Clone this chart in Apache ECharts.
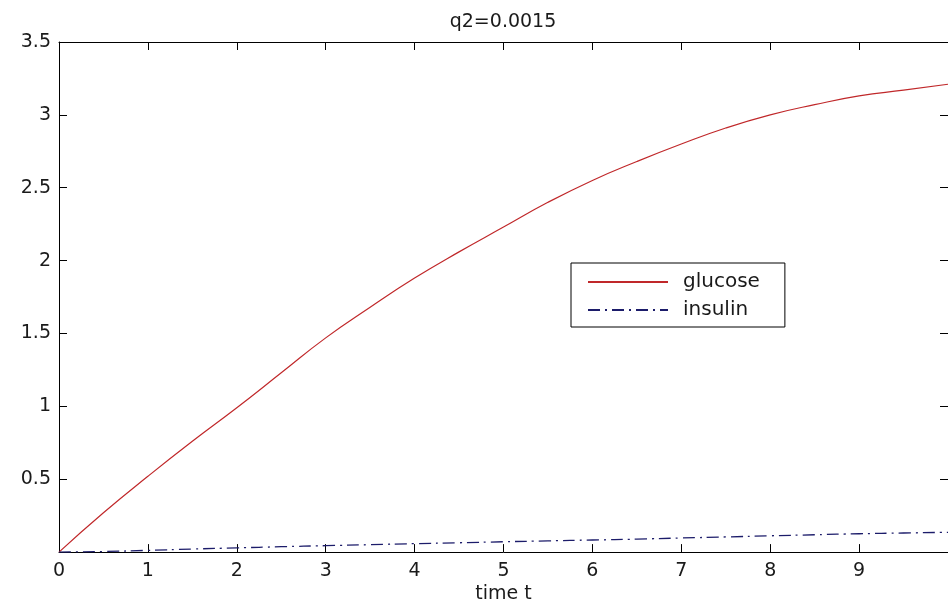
<!DOCTYPE html>
<html>
<head>
<meta charset="utf-8">
<script src="https://cdn.jsdelivr.net/npm/echarts@6/dist/echarts.min.js"></script>
<style>html,body{margin:0;padding:0;background:#fff}#c{width:948px;height:609px}</style>
</head>
<body>
<div id="c"></div>
<script>
const timeT = [0, 0.5, 1, 1.5, 2, 2.5, 3, 3.5, 4, 4.5, 5, 5.5, 6, 6.5, 7, 7.5, 8, 8.5, 9, 9.5, 10];
const glucose = [0, 0.27, 0.52, 0.76, 0.99, 1.23, 1.47, 1.68, 1.88, 2.06, 2.23, 2.40, 2.55, 2.68, 2.80, 2.91, 3.00, 3.07, 3.13, 3.17, 3.21];
const insulin = [0, 0.004, 0.012, 0.021, 0.029, 0.037, 0.044, 0.051, 0.058, 0.064, 0.071, 0.077, 0.083, 0.089, 0.097, 0.104, 0.112, 0.119, 0.126, 0.131, 0.136];
const seriesNames = ['glucose', 'insulin'];
const titleText = 'q2=0.0015';
const xName = 'time t';

const font = 'DejaVu Sans, Verdana, sans-serif';
const txtColor = '#1a1a1a';
const chart = echarts.init(document.getElementById('c'));
const pairs = (ys) => timeT.map((t, i) => [t, ys[i]]);
const tickCommon = { show: true, inside: true, length: 8, lineStyle: { color: '#000', width: 1 } };
chart.setOption({
  backgroundColor: '#fff',
  animation: false,
  title: {
    text: titleText, left: 498, top: 8, textAlign: 'center',
    textStyle: { fontFamily: font, fontSize: 19, fontWeight: 'normal', color: txtColor }
  },
  grid: { left: 59, top: 42, right: -8, bottom: 55, show: false },
  legend: {
    orient: 'vertical', left: 571, top: 263,
    padding: [9, 25, 7, 16], itemGap: 8, itemWidth: 80, itemHeight: 20,
    backgroundColor: '#fff', borderColor: '#000', borderWidth: 1, borderRadius: 0,
    itemStyle: { opacity: 0 },
    textStyle: { fontFamily: font, fontSize: 20, color: txtColor, padding: [0, 0, 0, 10] },
    data: seriesNames
  },
  xAxis: [{
    type: 'value', min: 0, max: 10, interval: 1, position: 'bottom',
    name: xName, nameLocation: 'middle', nameGap: 31,
    nameTextStyle: { fontFamily: font, fontSize: 19, color: txtColor },
    axisLine: { show: true, onZero: false, lineStyle: { color: '#000', width: 1 } },
    axisTick: tickCommon,
    axisLabel: { fontFamily: font, fontSize: 19, color: txtColor, margin: 9, showMaxLabel: false },
    splitLine: { show: false }
  }, {
    type: 'value', min: 0, max: 10, interval: 1, position: 'top',
    axisLine: { show: true, onZero: false, lineStyle: { color: '#000', width: 1 } },
    axisTick: tickCommon, axisLabel: { show: false }, splitLine: { show: false }
  }],
  yAxis: [{
    type: 'value', min: 0, max: 3.5, interval: 0.5, position: 'left',
    axisLine: { show: true, onZero: false, lineStyle: { color: '#000', width: 1 } },
    axisTick: tickCommon,
    axisLabel: { fontFamily: font, fontSize: 19, color: txtColor, margin: 8, showMinLabel: false },
    splitLine: { show: false }
  }, {
    type: 'value', min: 0, max: 3.5, interval: 0.5, position: 'right',
    axisLine: { show: true, onZero: false, lineStyle: { color: '#000', width: 1 } },
    axisTick: tickCommon, axisLabel: { show: false }, splitLine: { show: false }
  }],
  series: [{
    name: seriesNames[0], type: 'line', data: pairs(glucose), smooth: true,
    symbol: 'none', clip: true,
    lineStyle: { color: '#c0282a', width: 1.2 }, itemStyle: { color: '#c0282a', opacity: 0 }
  }, {
    name: seriesNames[1], type: 'line', data: pairs(insulin), smooth: true,
    symbol: 'none', clip: true,
    lineStyle: { color: '#1c1c6a', width: 1.3, type: [12, 5, 2, 5] }, itemStyle: { color: '#1c1c6a', opacity: 0 }
  }]
});
</script>
</body>
</html>
